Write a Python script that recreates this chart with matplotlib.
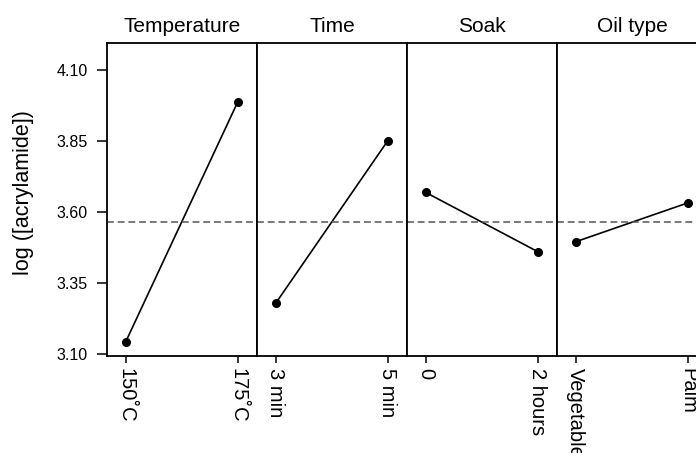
import matplotlib
matplotlib.use('Agg')
import matplotlib.pyplot as plt

plt.rcParams['font.family'] = ['Liberation Sans', 'DejaVu Sans']

# main effects on log acrylamide, two levels per factor
factors = ['Temperature', 'Time', 'Soak', 'Oil type']
levels = [['150˚C', '175˚C'],
          ['3 min', '5 min'],
          ['0', '2 hours'],
          ['Vegetable', 'Palm']]
means = [[3.142, 3.988],
         [3.278, 3.851],
         [3.669, 3.460],
         [3.495, 3.632]]
grand_mean = 3.564
yticks = [3.10, 3.35, 3.60, 3.85, 4.10]

W, H = 696, 453
fig = plt.figure(figsize=(W / 100, H / 100), dpi=100)

left, top, bottom, pw = 107, 43, 356, 150
for i, name in enumerate(factors):
    ax = fig.add_axes([(left + i * pw) / W, (H - bottom) / H,
                       pw / W, (bottom - top) / H])
    x = [1, 2]
    ax.plot(x, means[i], color='black', lw=1.2, marker='o', ms=5.5)
    ax.axhline(grand_mean, color='#555555', lw=1.1, ls=(0, (4.5, 2.5)))
    ax.set_xlim(0.833, 2.172)
    ax.set_ylim(3.092, 4.196)
    ax.set_xticks(x)
    ax.set_xticklabels(levels[i], rotation=270, va='top', ha='center', fontsize=14.5)
    ax.tick_params(axis='x', direction='out', length=5, width=1.1, pad=3.5)
    ax.set_title(name, fontsize=15, pad=8)
    for s in ax.spines.values():
        s.set_linewidth(1.3)
    if i == 0:
        ax.set_yticks(yticks)
        ax.set_yticklabels([f'{v:.2f}' for v in yticks], fontsize=11.5)
        ax.tick_params(axis='y', direction='out', length=7.5, width=1.1, pad=6.5)
    else:
        ax.set_yticks([])

fig.text(24 / W, 1 - 193 / H, 'log ([acrylamide])', fontsize=15.5,
         rotation=90, ha='center', va='center')

fig.savefig('out.png', dpi=100)
